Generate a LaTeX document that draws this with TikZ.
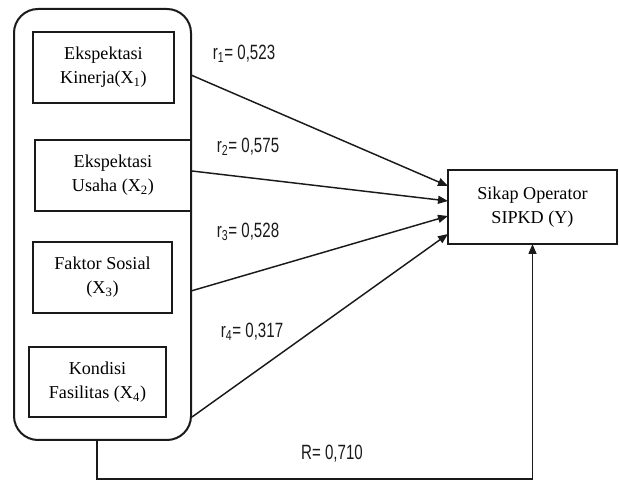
\documentclass[tikz,border=0pt]{standalone}
\usepackage{fontspec}
\setmainfont{Liberation Serif}
\newfontfamily\narrowsans[FakeStretch=0.73]{Liberation Sans}
\usetikzlibrary{arrows.meta,positioning,calc}
\definecolor{pathBlack}{HTML}{1a1a1a}
\tikzset{
  >={Triangle[length=7.5pt,width=6pt]},
  varbox/.style={draw=pathBlack, line width=1.1pt, fill=white, align=center,
              inner sep=0pt, outer sep=0pt, minimum height=53.25pt,
              font=\fontsize{13.6}{18}\selectfont},
  group/.style={draw=pathBlack, line width=1.5pt, rounded corners=18pt,
              inner sep=0pt, outer sep=0pt},
  target/.style={draw=pathBlack, line width=1.6pt, align=center, inner sep=0pt,
              outer sep=0pt, font=\fontsize{13.6}{18}\selectfont},
  lbl/.style={font=\narrowsans\fontsize{15.5}{17}\selectfont, text=pathBlack},
  flow/.style={->, draw=pathBlack, line width=1.1pt},
}
\begin{document}
\begin{tikzpicture}[x=0.75pt,y=-0.75pt]
        \useasboundingbox (0,0) rectangle (619,481);
        \node[group,minimum width=132.75pt,minimum height=323.25pt] (grp) at (102.5,224.5){};
        \node[varbox,minimum width=105.75pt] (x1) at (103.5,67.5){Ekspektasi\\Kinerja(X\textsubscript{1})};
        \node[varbox,minimum width=117pt] (x2) at (113,175.5){Ekspektasi\\Usaha (X\textsubscript{2})};
        \node[varbox,minimum width=104.25pt] (x3) at (102.5,277.5){Faktor Sosial\\(X\textsubscript{3})};
        \node[varbox,minimum width=102.75pt,minimum height=52.5pt] (x4) at (97.5,382){Kondisi\\Fasilitas (X\textsubscript{4})};
        \node[target,minimum width=126.75pt,minimum height=55.5pt] (y) at (532.5,207){Sikap Operator\\SIPKD (Y)};
        % path coefficients
        \node[lbl] (r1) at (244,54){r\textsubscript{1}= 0,523};
        \node[lbl] (r2) at (248,147){r\textsubscript{2}= 0,575};
        \node[lbl] (r3) at (248,232){r\textsubscript{3}= 0,528};
        \node[lbl] (r4) at (252,332){r\textsubscript{4}= 0,317};
        \node[lbl] (rr) at (332,454){R= 0,710};
        \coordinate (s1) at (191,75);\coordinate (s2) at (192,171);
        \coordinate (s3) at (191,291);\coordinate (s4) at (192,417);
        \coordinate (sb) at (97,440);
        \draw[flow](s1)--($(y.west)+(0,-21)$);\draw[flow](s2)--($(y.west)+(0,-6)$);
        \draw[flow](s3)--($(y.west)+(0,9)$);\draw[flow](s4)--($(y.west)+(0,27)$);
        \draw[flow](sb)--++(0,39)-|(y.south);
      \end{tikzpicture}
\end{document}
